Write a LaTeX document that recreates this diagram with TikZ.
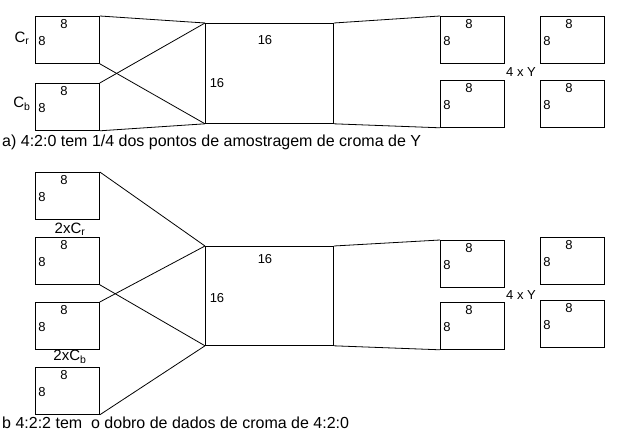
\documentclass[tikz,border=0pt]{standalone}
\usepackage{fontspec}
\setmainfont{Liberation Sans}
\usetikzlibrary{positioning}
\tikzstyle{sample} = [draw, thick, rectangle, minimum width=64pt, minimum height=47pt, inner sep=0pt]
\tikzstyle{big} = [draw, thick, rectangle, minimum width=128pt, minimum height=99pt, inner sep=0pt]
\tikzstyle{num} = [font=\fontsize{13}{14}\selectfont, inner sep=1pt]
\tikzstyle{chroma} = [font=\fontsize{15}{16}\selectfont, inner sep=1pt]
\tikzstyle{caption} = [font=\fontsize{16}{18}\selectfont, anchor=west, inner sep=0pt]
\tikzstyle{path} = [thick]
% box with the two 8 labels
\newcommand*{\smp}[2]{%
    \node (#1) [sample, anchor=north west] at #2 {};
    \node [num] at ([xshift=29pt,yshift=-8pt]#1.north west) {8};
    \node [num] at ([xshift=7pt,yshift=-25pt]#1.north west) {8};
}
\begin{document}
\begin{tikzpicture}[x=1pt, y=-1pt]
    \useasboundingbox (0,0) rectangle (625,431);

    % a) 4:2:0
    \smp{cr}{(35,16)}
    \smp{cb}{(35,83)}
    \node [chroma] at (22,38) {C$_\mathrm{r}$};
    \node [chroma] at (22,104) {C$_\mathrm{b}$};
    \node (ya) [big, minimum height=100pt, anchor=north west] at (205,23) {};
    \node [num] at ([xshift=60pt,yshift=-17pt]ya.north west) {16};
    \node [num] at ([xshift=12pt,yshift=-60pt]ya.north west) {16};
    \smp{ya1}{(440,16)}
    \smp{ya2}{(540,16)}
    \smp{ya3}{(440,80)}
    \smp{ya4}{(540,80)}
    \node [num] at (521,72) {4 x Y};
    \draw [path] (cr.north east) -- (ya.north west);
    \draw [path] (cr.south east) -- (ya.south west);
    \draw [path] (cb.north east) -- (ya.north west);
    \draw [path] (cb.south east) -- (ya.south west);
    \draw [path] (ya.north east) -- (ya1.north west);
    \draw [path] (ya.south east) -- (ya3.south west);
    \node [caption] at (2,142) {a) 4:2:0 tem 1/4 dos pontos de amostragem de croma de Y};

    % b) 4:2:2
    \smp{cr1}{(35,172)}
    \smp{cr2}{(35,237)}
    \smp{cb1}{(35,302)}
    \smp{cb2}{(35,367)}
    \node [chroma] at (70,229) {2xC$_\mathrm{r}$};
    \node [chroma] at (70,357) {2xC$_\mathrm{b}$};
    \node (yb) [big, anchor=north west] at (205,246) {};
    \node [num] at ([xshift=60pt,yshift=-13pt]yb.north west) {16};
    \node [num] at ([xshift=12pt,yshift=-52pt]yb.north west) {16};
    \smp{yb1}{(440,240)}
    \smp{yb2}{(540,237)}
    \smp{yb3}{(440,302)}
    \smp{yb4}{(540,300)}
    \node [num] at (521,295) {4 x Y};
    \draw [path] (cr1.north east) -- (yb.north west);
    \draw [path] (cr2.south east) -- (yb.south west);
    \draw [path] (cb1.north east) -- (yb.north west);
    \draw [path] (cb2.south east) -- (yb.south west);
    \draw [path] (yb.north east) -- (yb1.north west);
    \draw [path] (yb.south east) -- (yb3.south west);
    \node [caption] at (2,423) {b 4:2:2 tem\ \ o dobro de dados de croma de 4:2:0};
\end{tikzpicture}
\end{document}
